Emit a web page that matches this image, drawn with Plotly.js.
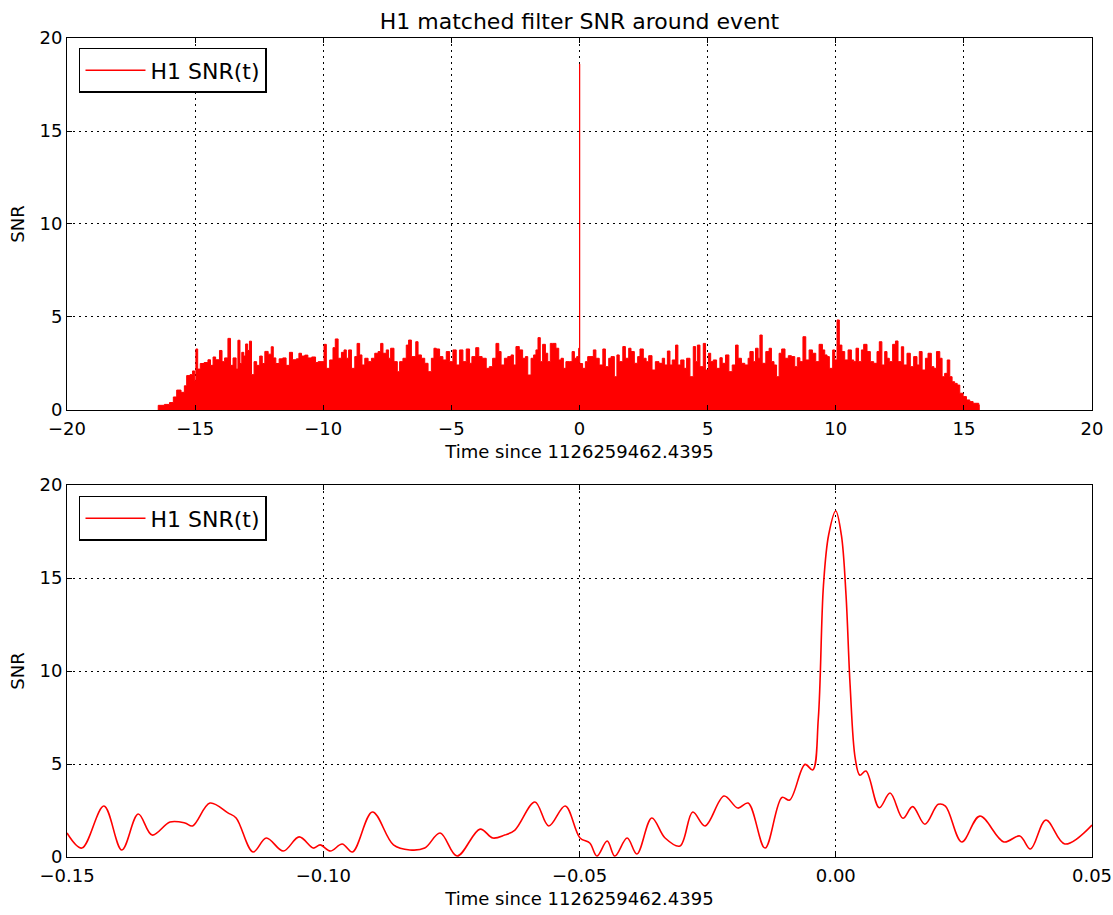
<!DOCTYPE html>
<html>
<head>
<meta charset="utf-8">
<script src="https://cdn.plot.ly/plotly-3.0.1.min.js"></script>
<style>
  html, body { margin: 0; padding: 0; background: #fff; }
  #chart { width: 1113px; height: 915px; }
</style>
</head>
<body>
<div id="chart"></div>
<script>
// H1 matched-filter SNR time series, full 32 s window (peak envelope)
const tFull = [
  -16.45, -16.44, -16.2, -16.0, -15.85, -15.72, -15.55, -15.42, -15.33, -15.2,
  -15.1, -15.02, -14.97, -14.9, -14.8, -14.65, -14.5, -14.4, -14.3, -14.2,
  -14.05, -13.95, -13.85, -13.72, -13.62, -13.52, -13.4, -13.33, -13.25, -13.18,
  -13.1, -13.03, -12.95, -12.88, -12.8, -12.7, -12.6, -12.48, -12.38, -12.28,
  -12.15, -12.03, -11.95, -11.85, -11.72, -11.58, -11.45, -11.32, -11.2, -11.05,
  -10.95, -10.85, -10.72, -10.6, -10.45, -10.3,
  -10.20, -9.97, -9.88, -9.75, -9.62, -9.53, -9.42, -9.29, -9.19, -9.10,
  -9.01, -8.90, -8.77, -8.68, -8.58, -8.49, -8.38, -8.25, -8.12, -7.99,
  -7.86, -7.76, -7.67, -7.54, -7.45, -7.37, -7.24, -7.11, -7.02, -6.89,
  -6.76, -6.67, -6.56, -6.39, -6.30, -6.17, -6.04, -5.91, -5.78, -5.68,
  -5.59, -5.46, -5.33, -5.20, -5.07, -4.94, -4.81, -4.68, -4.55, -4.42,
  -4.29, -4.20, -4.05, -3.93, -3.80, -3.64,
  -3.52, -3.39, -3.26, -3.15, -3.06, -2.93, -2.80, -2.67, -2.58, -2.48,
  -2.35, -2.22, -2.11, -2.02, -1.89, -1.79, -1.70, -1.62, -1.53, -1.44,
  -1.33, -1.24, -1.14, -1.05, -0.92, -0.81, -0.72, -0.63, -0.53, -0.40,
  -0.29, -0.20, -0.11, -0.03, -0.01, 0.0, 0.01,
  0.12, 0.23, 0.32, 0.45, 0.54, 0.64, 0.77, 0.91, 1.01, 1.14,
  1.23, 1.36, 1.46, 1.55, 1.69, 1.79, 1.92, 2.01, 2.14, 2.27,
  2.36, 2.49, 2.60, 2.70, 2.83, 2.96,
  3.10, 3.23, 3.32, 3.43, 3.53, 3.62, 3.75, 3.84, 3.95, 4.08,
  4.18, 4.31, 4.44, 4.53, 4.60, 4.70, 4.83, 4.92, 5.03, 5.12,
  5.22, 5.35, 5.48, 5.57, 5.70, 5.83, 5.96, 6.09, 6.19, 6.32,
  6.45, 6.58, 6.65, 6.78, 6.87, 6.97, 7.04, 7.13, 7.27, 7.40,
  7.49, 7.59, 7.69, 7.79, 7.89, 8.02, 8.15, 8.27, 8.40, 8.50,
  8.60, 8.72, 8.83, 8.96, 9.09, 9.22, 9.35, 9.48,
  9.57, 9.66, 9.75, 9.88, 9.96, 10.05, 10.14, 10.24, 10.35, 10.48,
  10.61, 10.70, 10.79, 10.89, 11.00, 11.09, 11.22, 11.35, 11.48, 11.61,
  11.70, 11.80, 11.91, 12.00, 12.09, 12.22, 12.33, 12.43, 12.56, 12.65,
  12.78, 12.91, 13.04, 13.17, 13.26, 13.37, 13.50, 13.60, 13.73, 13.83,
  13.93, 14.06, 14.15, 14.25, 14.35, 14.45, 14.54, 14.64, 14.74, 14.84,
  14.97, 15.10, 15.23, 15.36, 15.58, 15.6
];
const snrFull = [
  0, 0.25, 0.3, 0.4, 0.7, 1.07, 0.95, 1.3, 1.85, 1.9,
  2.1, 1.6, 3.28, 2.2, 2.5, 2.55, 2.7, 2.4, 2.85, 2.7,
  3.2, 2.6, 2.8, 3.85, 2.4, 2.8, 2.2, 3.75, 2.5, 3.1,
  2.9, 3.55, 3.2, 3.7, 1.9, 2.6, 2.4, 2.9, 2.5, 3.15,
  3.0, 3.4, 2.8, 2.5, 2.75, 2.8, 2.4, 3.1, 2.7, 2.75,
  3.05, 2.9, 2.95, 2.8, 2.85, 2.55,
  2.6, 3.53, 2.24, 2.69, 3.35, 3.82, 2.78, 3.1, 3.23, 2.78,
  3.23, 2.24, 2.87, 3.58, 2.96, 2.42, 2.78, 2.6, 2.78, 3.05,
  3.14, 3.58, 3.05, 3.23, 2.78, 3.32, 2.6, 2.06, 2.6, 2.78,
  3.49, 3.76, 2.87, 3.67, 2.96, 2.78, 2.51, 2.06, 2.78, 3.32,
  3.28, 2.87, 2.69, 3.14, 2.6, 3.23, 2.42, 3.23, 2.6, 3.28,
  2.51, 2.87, 3.35, 2.87, 2.78, 2.24,
  2.33, 2.78, 3.58, 3.14, 2.42, 2.78, 2.87, 2.96, 2.42, 3.41,
  3.23, 2.78, 2.87, 1.88, 2.78, 2.96, 3.23, 3.89, 2.6, 3.53,
  3.05, 2.6, 3.58, 3.58, 3.32, 2.69, 2.78, 2.24, 2.6, 2.6,
  3.14, 2.78, 2.87, 3.32, 2.8, 18.6, 2.5,
  2.24, 2.6, 2.87, 2.87, 3.23, 2.78, 2.42, 3.28, 2.33, 2.78,
  2.87, 1.79, 2.96, 2.6, 3.41, 2.78, 3.32, 3.14, 2.51, 2.87,
  3.28, 2.78, 2.6, 2.92, 2.15, 2.6,
  2.51, 2.78, 2.42, 3.17, 2.42, 2.69, 3.49, 2.42, 2.69, 2.24,
  2.78, 1.79, 3.41, 2.6, 3.49, 2.33, 3.58, 2.15, 3.05, 2.6,
  2.69, 2.24, 2.81, 2.51, 2.96, 2.06, 2.42, 3.49, 2.78, 2.51,
  2.42, 2.78, 3.14, 2.6, 3.32, 2.78, 4.03, 2.51, 3.14, 3.32,
  2.6, 2.42, 1.79, 3.05, 3.28, 2.78, 2.92, 2.87, 2.33, 2.81,
  2.6, 3.94, 2.69, 3.23, 3.05, 2.6, 3.53, 3.23,
  2.96, 2.87, 2.24, 3.23, 2.69, 4.84, 3.49, 3.14, 2.69, 3.23,
  2.69, 2.6, 3.32, 2.6, 3.23, 3.53, 3.14, 2.6, 2.51, 3.14,
  3.67, 2.42, 3.14, 2.78, 2.6, 3.53, 3.71, 2.6, 3.4, 2.42,
  3.05, 2.33, 2.87, 2.42, 3.14, 2.15, 2.78, 3.05, 2.33, 2.24,
  3.14, 2.78, 1.79, 1.97, 2.69, 1.79, 1.52, 1.43, 1.34, 0.9,
  0.72, 0.54, 0.45, 0.36, 0.28, 0
];

// Zoom on the event: -0.15 s to +0.05 s
const tZoom = [
  -0.15, -0.1471, -0.1428, -0.1393, -0.1361, -0.1334, -0.1299, -0.1270, -0.1255, -0.1221,
  -0.1186, -0.1170, -0.1137, -0.1111, -0.1078, -0.1047, -0.1019, -0.1006, -0.0986, -0.0963,
  -0.0943, -0.0904, -0.0863, -0.0831, -0.0802, -0.0772, -0.0739, -0.0694, -0.0669, -0.0646,
  -0.0626, -0.0587, -0.0560, -0.0528, -0.0499, -0.0480, -0.0466, -0.0446, -0.0431, -0.0407,
  -0.0388, -0.0359, -0.0333, -0.0304, -0.0279, -0.0255, -0.0218, -0.0191, -0.0171, -0.0138,
  -0.0105, -0.0090, -0.0060, -0.0045, -0.0034, -0.0024, -0.0014, 0.0, 0.0011, 0.0020,
  0.0028, 0.0038, 0.0047, 0.0059, 0.0085, 0.0106, 0.0131, 0.0150, 0.0174, 0.0200,
  0.0214, 0.0246, 0.0281, 0.0328, 0.0359, 0.0380, 0.0410, 0.0447, 0.0500
];
const snrZoom = [
  1.29, 0.48, 2.74, 0.38, 2.31, 1.18, 1.88, 1.83, 1.67, 2.9,
  2.37, 2.1, 0.27, 1.02, 0.32, 1.08, 0.48, 0.65, 0.32, 0.7,
  0.27, 2.42, 0.65, 0.38, 0.48, 1.29, 0.05, 1.5, 1.02, 1.18,
  1.45, 2.96, 1.67, 2.74, 1.02, 0.75, 0.05, 0.86, 0.05, 1.02,
  0.16, 2.1, 1.02, 0.59, 2.42, 1.67, 3.28, 2.63, 2.9, 0.48,
  3.2, 3.06, 4.98, 4.68, 7.46, 14.6, 17.3, 18.6, 17.3, 14.1,
  9.25, 5.3, 4.4, 4.62, 2.65, 3.44, 2.08, 2.71, 1.76, 2.83,
  2.74, 0.81, 2.2, 0.81, 1.13, 0.43, 1.99, 0.7, 1.72
];

const seriesName = 'H1 SNR(t)';
const xLabel = 'Time since 1126259462.4395';
const yLabel = 'SNR';
const red = '#ff0000';

const traces = [
  {
    x: tFull, y: snrFull, xaxis: 'x', yaxis: 'y',
    type: 'scatter', mode: 'lines', fill: 'tozeroy',
    fillcolor: red, line: { color: red, width: 1, shape: 'hv' },
    showlegend: false, hoverinfo: 'x+y'
  },
  // legend entry for the upper panel (line swatch)
  {
    x: [null], y: [null], xaxis: 'x', yaxis: 'y',
    type: 'scatter', mode: 'lines', name: seriesName,
    line: { color: red, width: 1.5 }, legend: 'legend'
  },
  {
    x: tZoom, y: snrZoom, xaxis: 'x2', yaxis: 'y2',
    type: 'scatter', mode: 'lines', name: seriesName,
    line: { color: red, width: 1.6, shape: 'spline', smoothing: 1 },
    legend: 'legend2'
  }
];

const axisStyle = {
  showline: true, linecolor: '#000', linewidth: 1, mirror: 'ticks',
  ticks: 'inside', ticklen: 5, tickwidth: 1, tickcolor: '#000',
  showgrid: true, gridcolor: '#000', gridwidth: 1, griddash: '1.5px,4.5px',
  zeroline: false, tickfont: { size: 18, color: '#000' }
};

const legendStyle = {
  x: 0.0117, xanchor: 'left', yanchor: 'top',
  bgcolor: '#fff', bordercolor: '#000', borderwidth: 1.5,
  font: { size: 22, color: '#000' }, itemwidth: 60
};

const layout = {
  width: 1113, height: 915,
  margin: { l: 67, r: 21, t: 38, b: 58 },
  paper_bgcolor: '#fff', plot_bgcolor: '#fff',
  font: { family: 'DejaVu Sans, sans-serif', size: 18, color: '#000' },
  title: {
    text: 'H1 matched filter SNR around event',
    font: { size: 22, color: '#000' },
    x: 0.5, xref: 'paper', xanchor: 'center',
    y: 1 - 21 / 915, yref: 'container', yanchor: 'middle'
  },
  xaxis: Object.assign({}, axisStyle, {
    anchor: 'y', domain: [0, 1], range: [-20, 20], dtick: 5, tick0: 0,
    ticklabelstandoff: 2,
    title: { text: xLabel, font: { size: 18 }, standoff: 7 }
  }),
  yaxis: Object.assign({}, axisStyle, {
    anchor: 'x', domain: [0.5458, 1], range: [0, 20], dtick: 5, tick0: 0,
    title: { text: yLabel, font: { size: 18 }, standoff: 10 }
  }),
  xaxis2: Object.assign({}, axisStyle, {
    anchor: 'y2', domain: [0, 1], range: [-0.15, 0.05], dtick: 0.05, tick0: 0,
    tickformat: '.2f', ticklabelstandoff: 2,
    title: { text: xLabel, font: { size: 18 }, standoff: 7 }
  }),
  yaxis2: Object.assign({}, axisStyle, {
    anchor: 'x2', domain: [0, 0.4542], range: [0, 20], dtick: 5, tick0: 0,
    title: { text: yLabel, font: { size: 18 }, standoff: 10 }
  }),
  legend: Object.assign({}, legendStyle, { y: 0.9878 }),
  legend2: Object.assign({}, legendStyle, { y: 0.4408 })
};

Plotly.newPlot('chart', traces, layout, { staticPlot: true, displayModeBar: false });
</script>
</body>
</html>
